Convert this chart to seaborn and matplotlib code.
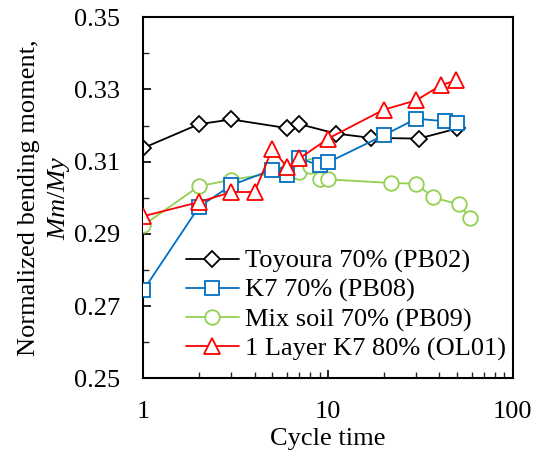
import matplotlib
matplotlib.use("Agg")
import matplotlib.pyplot as plt
import seaborn as sns
import pandas as pd
from matplotlib.ticker import FixedLocator, NullFormatter, LogLocator

sns.set_theme(style="white")
plt.rcParams['font.family'] = ['Liberation Serif', 'DejaVu Serif']
plt.rcParams['mathtext.fontset'] = 'custom'
plt.rcParams['mathtext.it'] = 'Liberation Serif:italic'
plt.rcParams['mathtext.rm'] = 'Liberation Serif'

# Data
toyoura_x = [1, 2, 3, 6, 7, 11, 17, 31, 50]
toyoura_y = [0.3138, 0.3204, 0.3217, 0.3193, 0.3204, 0.3178, 0.3166, 0.3164, 0.3192]

k7_x = [1, 2, 3, 5, 6, 7, 9, 10, 20, 30, 43, 50]
k7_y = [0.2744, 0.2975, 0.3035, 0.3078, 0.3062, 0.3109, 0.3090, 0.3098, 0.3173, 0.3219, 0.3212, 0.3208]

mix_x = [1, 2, 3, 6, 7, 8, 9, 10, 22, 30, 37, 51, 59]
mix_y = [0.2924, 0.3032, 0.3050, 0.3074, 0.3071, 0.3087, 0.3051, 0.3051, 0.3041, 0.3039, 0.3001, 0.2982, 0.2944]

ol_x = [1, 2, 3, 4, 5, 6, 7, 10, 20, 30, 41, 49]
ol_y = [0.2949, 0.2988, 0.3016, 0.3016, 0.3136, 0.3084, 0.3109, 0.3164, 0.3244, 0.3270, 0.3312, 0.3325]

labels = ["Toyoura 70% (PB02)", "K7 70% (PB08)", "Mix soil 70% (PB09)", "1 Layer K7 80% (OL01)"]
colors = ["#000000", "#0070C0", "#92D050", "#FF0000"]
markers = ["D", "s", "o", "^"]
msizes = [8.5, 10, 10.5, 11]
zorders = [2, 4, 3, 5]

series = [(toyoura_x, toyoura_y), (k7_x, k7_y), (mix_x, mix_y), (ol_x, ol_y)]

FS = 19

fig = plt.figure(figsize=(5.33, 4.55), dpi=100)
ax = fig.add_axes([0.269, 0.1686, 0.693, 0.7934])

for (xs, ys), lab, c, m, ms, z in zip(series, labels, colors, markers, msizes, zorders):
    df = pd.DataFrame({"x": xs, "y": ys})
    sns.lineplot(data=df, x="x", y="y", ax=ax, color=c, marker=m, markersize=ms,
                 markerfacecolor="white", markeredgecolor=c, markeredgewidth=1.3,
                 linewidth=1.3, label=lab, sort=False, estimator=None, zorder=z)

ax.set_xscale("log")
ax.set_xlim(1, 100)
ax.set_ylim(0.25, 0.35)
ax.set_yticks([0.25, 0.27, 0.29, 0.31, 0.33, 0.35])
ax.yaxis.set_minor_locator(FixedLocator([0.26, 0.28, 0.30, 0.32, 0.34]))
ax.set_yticklabels(["0.25", "0.27", "0.29", "0.31", "0.33", "0.35"])
ax.set_xticks([1, 10, 100])
ax.set_xticklabels(["1", "10", "100"])
ax.xaxis.set_minor_locator(LogLocator(base=10, subs=range(2, 10)))
ax.xaxis.set_minor_formatter(NullFormatter())

ax.tick_params(axis="both", which="major", direction="in", length=6, width=1.2,
               labelsize=FS, colors="black", bottom=True, left=True, top=False, right=False)
ax.tick_params(axis="both", which="minor", direction="in", length=4, width=1.0,
               bottom=True, left=True, top=False, right=False)
ax.tick_params(axis="y", which="major", pad=17)
ax.tick_params(axis="x", which="major", pad=16)

for s in ax.spines.values():
    s.set_color("black")
    s.set_linewidth(1.5)

ax.set_xlabel("Cycle time", fontsize=FS, color="black", labelpad=4)
ax.set_ylabel("Normalized bending moment,\n$\\mathit{Mm/My}$", fontsize=FS, color="black",
              labelpad=1, linespacing=1.3)

leg = ax.legend(loc="upper left", bbox_to_anchor=(0.115, 0.357), frameon=False,
                fontsize=FS, handlelength=2.0, handletextpad=0.25, labelspacing=0.2,
                borderpad=0, borderaxespad=0)
for t in leg.get_texts():
    t.set_color("black")

fig.savefig("out.png", dpi=100, facecolor="white")
